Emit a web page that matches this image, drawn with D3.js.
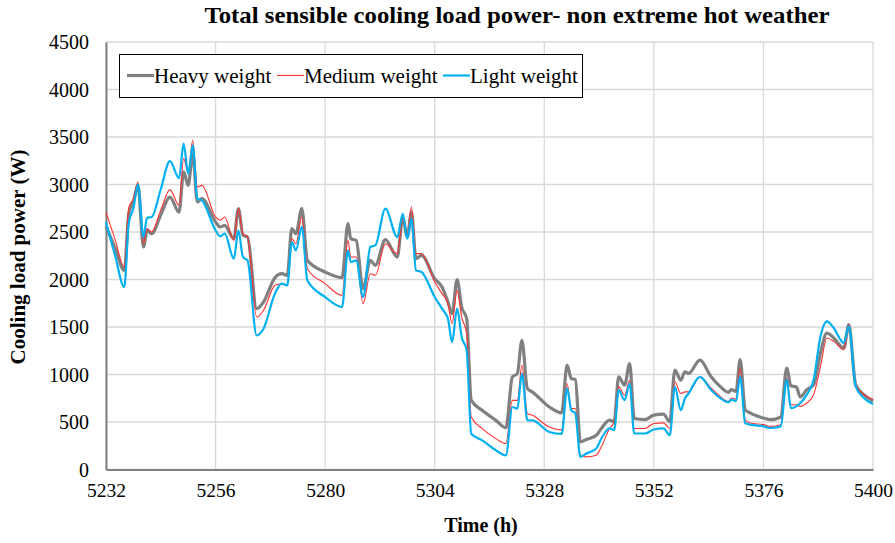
<!DOCTYPE html>
<html><head><meta charset="utf-8">
<script src="https://cdn.jsdelivr.net/npm/d3@7"></script>
<style>body{margin:0;background:#fff}svg{display:block}text{font-family:"Liberation Serif","Times New Roman",serif !important;fill:#000}</style>
</head><body><svg id="c" width="895" height="543"></svg>
<script>
const hours = [5232,5234,5236,5237,5238,5239,5240.2,5241,5242,5244,5246,5248,5249,5250,5251,5252,5253,5256,5257,5258,5260,5261,5262,5263,5265,5266.5,5269,5270.5,5271.7,5272.7,5273.6,5274.9,5276.1,5280,5283.7,5285,5285.6,5286.8,5288.3,5289.9,5291,5293.2,5295.8,5297,5298,5298.9,5299.9,5301.1,5304,5305.6,5306.9,5307.8,5308.9,5309.9,5311,5312,5314.4,5317.4,5319.6,5321,5322.1,5323.1,5324.3,5325.4,5329.1,5331.8,5333,5333.9,5334.8,5335.9,5337.2,5339.4,5340.5,5342.3,5343.3,5344.3,5345.6,5346.7,5347.7,5350,5352,5354.1,5355.5,5356.6,5357.9,5358.8,5359.6,5362.1,5364.5,5366.5,5368.3,5369,5370,5370.9,5372,5373.1,5376,5377.5,5379.8,5381.1,5382,5383.2,5384.1,5385.5,5387,5388.5,5389.9,5391.4,5393.6,5394.7,5396.2,5398,5400];
const heavy = [2560,2330,2096,2700,2820,2990,2342,2517,2482,2680,2868,2710,3132,2991,3325,2816,2851,2605,2553,2570,2430,2746,2465,2447,1693,1763,2019,2061,2044,2535,2482,2746,2202,2079,2019,2588,2430,2412,1903,2202,2149,2419,2237,2650,2447,2711,2219,2254,2009,1921,1763,1640,1998,1710,1588,728,623,517,440,974,1009,1360,851,816,658,596,1098,958,947,291,316,361,432,519,502,975,888,1116,537,526,572,582,502,1046,940,1028,1011,1151,980,875,812,840,823,1156,630,595,542,524,553,1068,882,868,763,840,893,1226,1437,1384,1279,1525,893,788,720];
const medium = [2710,2420,2130,2760,2850,3026,2377,2535,2500,2730,2946,2780,3272,3132,3465,2974,2991,2658,2623,2658,2412,2746,2482,2447,1605,1675,1939,1956,1939,2430,2377,2658,2114,1956,1833,2412,2237,2237,1746,2061,2044,2377,2272,2640,2480,2763,2272,2272,1974,1851,1746,1535,1886,1605,1430,553,430,325,272,728,728,1096,588,570,447,417,905,642,642,151,133,151,239,432,500,870,782,940,432,432,484,491,432,923,800,817,817,975,860,770,717,753,740,1068,524,489,472,454,472,963,682,682,665,700,788,1086,1384,1349,1261,1525,893,788,740];
const light = [2600,2250,1920,2600,2750,3000,2447,2650,2658,2950,3247,3068,3430,3114,3412,2851,2833,2517,2454,2482,2219,2517,2237,2201,1412,1482,1851,1956,1939,2395,2307,2553,1991,1816,1710,2307,2184,2202,1816,2342,2360,2746,2447,2690,2430,2640,2096,2079,1816,1693,1588,1342,1693,1395,1254,377,307,202,149,658,640,1009,518,518,395,375,853,625,590,133,168,221,326,432,414,835,730,905,379,379,421,432,361,870,625,747,800,975,840,753,707,735,720,981,489,472,454,437,454,946,647,665,700,788,946,1402,1560,1489,1332,1507,875,753,690];
const xTicks = [5232,5256,5280,5304,5328,5352,5376,5400];
const yTicks = [0,500,1000,1500,2000,2500,3000,3500,4000,4500];
const seriesNames = ["Heavy weight","Medium weight","Light weight"];
const seriesColors = ["#808080","#ff3030","#00b0f0"];
const seriesWidths = [3.2,1.1,2.2];

const svg = d3.select("#c");
const L=106, R=873, T=42, B=469.5;
const x = d3.scaleLinear().domain([5232,5400]).range([L,R]);
const y = d3.scaleLinear().domain([0,4500]).range([B,T]);

// grid
svg.append("g").selectAll("line.h").data(yTicks).join("line")
  .attr("x1",L).attr("x2",R).attr("y1",d=>y(d)).attr("y2",d=>y(d))
  .attr("stroke","#d9d9d9").attr("stroke-width",1.3);
svg.append("g").selectAll("line.v").data(xTicks).join("line")
  .attr("y1",T).attr("y2",B).attr("x1",d=>x(d)).attr("x2",d=>x(d))
  .attr("stroke","#d9d9d9").attr("stroke-width",1.3);

// axes
const yAxis = d3.axisLeft(y).tickValues(yTicks).tickSize(0).tickPadding(17).tickFormat(d3.format("d"));
const gy = svg.append("g").attr("transform",`translate(${L},0)`).call(yAxis);
gy.attr("font-family",null).attr("font-size",null);
gy.select(".domain").attr("stroke","#808080").attr("stroke-width",2);
gy.selectAll("text").attr("font-family","Liberation Serif").attr("font-size","20px").attr("dy","0.33em");
const xAxis = d3.axisBottom(x).tickValues(xTicks).tickSize(0).tickPadding(14).tickFormat(d3.format("d"));
const gx = svg.append("g").attr("transform",`translate(0,${B})`).call(xAxis);
gx.attr("font-family",null).attr("font-size",null);
gx.select(".domain").attr("stroke","#808080").attr("stroke-width",2);
gx.selectAll("text").attr("font-family","Liberation Serif").attr("font-size","19.5px");

// lines
const all=[heavy,medium,light];
all.forEach((vals,i)=>{
  const line = d3.line().x((d,j)=>x(hours[j])).y(d=>y(d)).curve(d3.curveMonotoneX);
  svg.append("path").datum(vals).attr("d",line).attr("fill","none")
    .attr("stroke",seriesColors[i]).attr("stroke-width",seriesWidths[i]).attr("stroke-linejoin","round");
});

// legend
svg.append("rect").attr("x",119.5).attr("y",54.5).attr("width",463).attr("height",43)
  .attr("fill","#fff").attr("stroke","#000").attr("stroke-width",1);
const legX=[127,277,443];
seriesNames.forEach((n,i)=>{
  svg.append("line").attr("x1",legX[i]).attr("x2",legX[i]+27).attr("y1",75.5).attr("y2",75.5)
    .attr("stroke",seriesColors[i]).attr("stroke-width",seriesWidths[i]);
  svg.append("text").attr("x",legX[i]+27).attr("y",83).style("font-size","21px").text(n);
});

// titles
svg.append("text").attr("x",517).attr("y",23).attr("text-anchor","middle")
  .attr("textLength",625).attr("lengthAdjust","spacingAndGlyphs")
  .style("font-size","23px").style("font-weight","bold").text("Total sensible cooling load power- non extreme hot weather");
svg.append("text").attr("x",481).attr("y",532).attr("text-anchor","middle")
  .style("font-size","20px").style("font-weight","bold").text("Time  (h)");
svg.append("text").attr("transform","translate(25,257) rotate(-90)").attr("text-anchor","middle")
  .style("font-size","21px").style("font-weight","bold").text("Cooling load power  (W)");
</script></body></html>
